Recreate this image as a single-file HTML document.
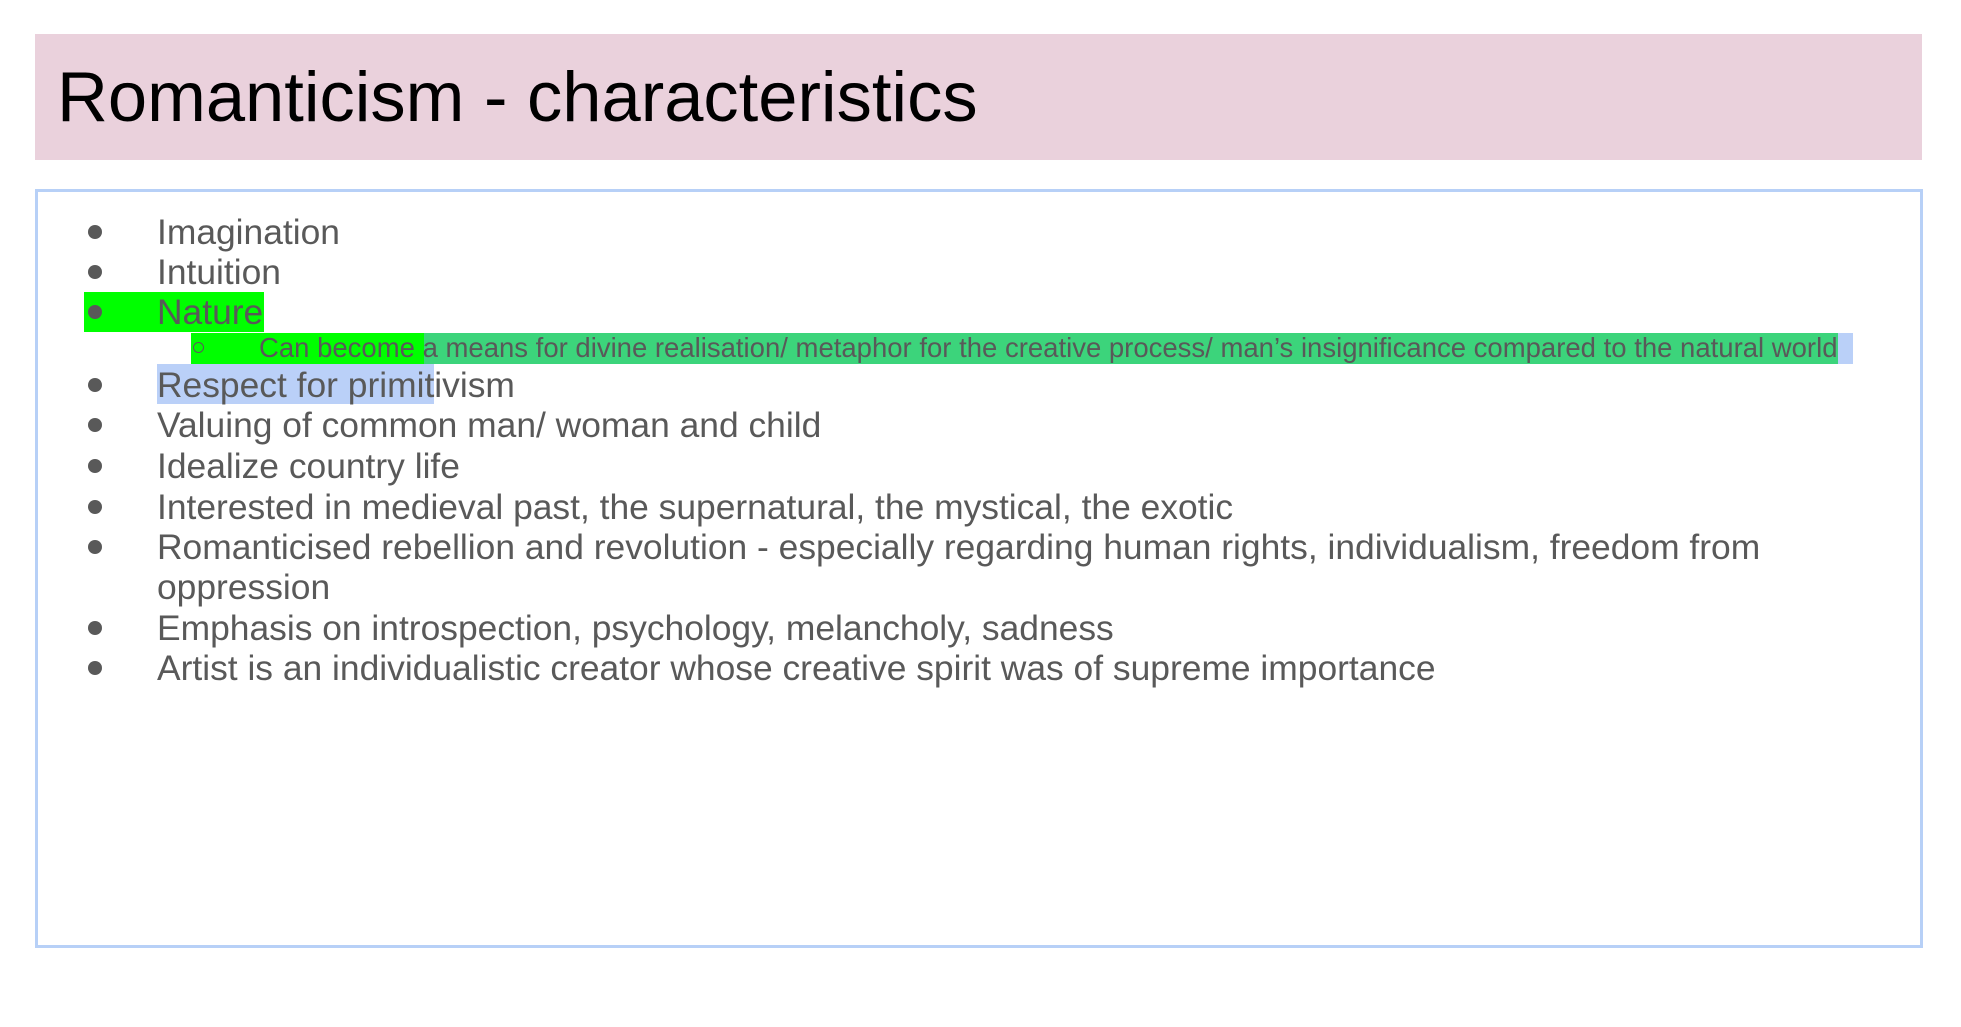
<!DOCTYPE html>
<html><head><meta charset="utf-8"><style>
body{margin:0;width:1961px;height:1027px;background:#fff;position:relative;overflow:hidden;font-family:"Liberation Sans",Arial,sans-serif;}
.abs{position:absolute;}
.title-bar{left:35px;top:34px;width:1887px;height:126px;background:#ead1dc;}
.title{left:57px;top:57px;font-size:70.5px;line-height:80px;color:#000;white-space:nowrap;}
.box{left:35px;top:189px;width:1882px;height:753px;border:3px solid #b7d0f7;}
.hl{position:absolute;}
.line{position:absolute;left:157px;font-size:35.4px;line-height:40px;color:#595959;white-space:nowrap;}
.dot{position:absolute;left:88px;width:14px;height:14px;border-radius:50%;background:#595959;}
.sub{position:absolute;left:259px;font-size:27.5px;line-height:32px;color:#595959;white-space:nowrap;}
</style></head><body>
<div class="abs title-bar"></div>
<div class="abs title">Romanticism - characteristics</div>
<div class="abs box"></div>

<div class="hl" style="left:84px;top:292px;width:180px;height:40px;background:#00ff00"></div>
<div class="hl" style="left:191px;top:333px;width:233px;height:31px;background:#00ff00"></div>
<div class="hl" style="left:424px;top:333px;width:1414px;height:31px;background:#3cd47b"></div>
<div class="hl" style="left:1838px;top:333px;width:15px;height:31px;background:#bad0f8"></div>
<div class="hl" style="left:157px;top:364px;width:277px;height:40px;background:#bad0f8"></div>

<div class="dot" style="top:225px"></div>
<div class="line" style="top:212px">Imagination</div>
<div class="dot" style="top:265px"></div>
<div class="line" style="top:252px">Intuition</div>
<div class="dot" style="top:305px"></div>
<div class="line" style="top:292px">Nature</div>
<div class="abs" style="left:193px;top:342px;width:9px;height:9px;border:1.5px solid #595959;border-radius:50%"></div>
<div class="sub" style="top:332px">Can become a means for divine realisation/ metaphor for the creative process/ man’s insignificance compared to the natural world</div>
<div class="dot" style="top:378px"></div>
<div class="line" style="top:365px">Respect for primitivism</div>
<div class="dot" style="top:418px"></div>
<div class="line" style="top:405px">Valuing of common man/ woman and child</div>
<div class="dot" style="top:459px"></div>
<div class="line" style="top:446px">Idealize country life</div>
<div class="dot" style="top:500px"></div>
<div class="line" style="top:487px">Interested in medieval past, the supernatural, the mystical, the exotic</div>
<div class="dot" style="top:540px"></div>
<div class="line" style="top:527px">Romanticised rebellion and revolution - especially regarding human rights, individualism, freedom from</div>
<div class="line" style="top:567px">oppression</div>
<div class="dot" style="top:621px"></div>
<div class="line" style="top:608px">Emphasis on introspection, psychology, melancholy, sadness</div>
<div class="dot" style="top:661px"></div>
<div class="line" style="top:648px">Artist is an individualistic creator whose creative spirit was of supreme importance</div>
</body></html>
